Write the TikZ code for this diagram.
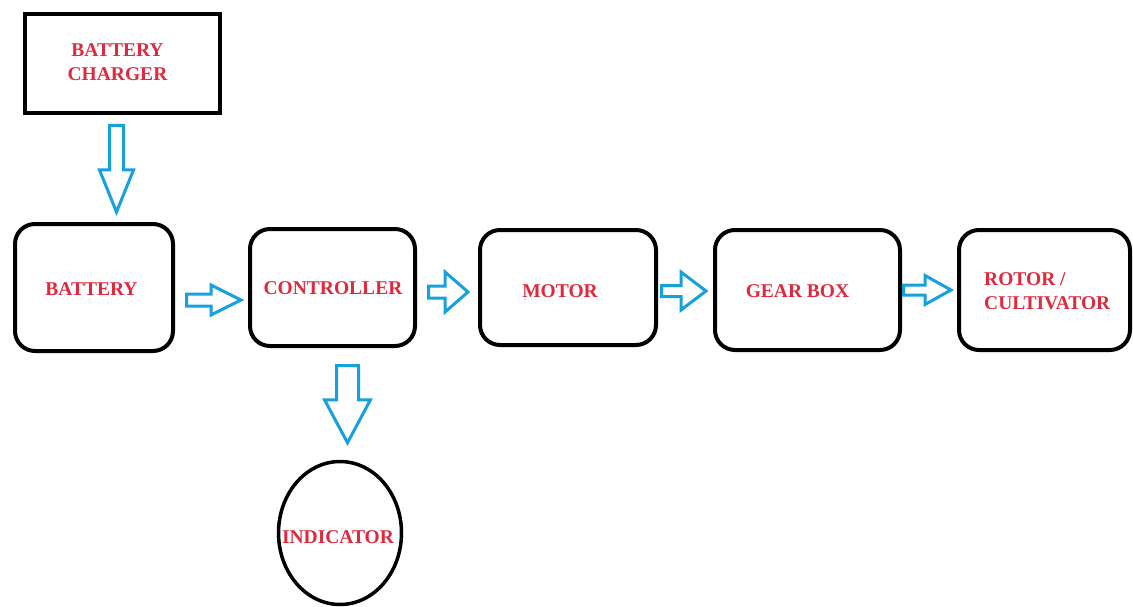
\documentclass[tikz,border=0pt]{standalone}
\usepackage{fontspec}
\setmainfont{Liberation Serif}
\usetikzlibrary{calc,shapes.geometric}

\definecolor{labelred}{RGB}{222,42,62}
\definecolor{flowblue}{RGB}{22,160,222}

% hollow block arrow, left to right: start, tip, shaft half-width, head half-width, head length
\newcommand\hblock[5]{%
  \draw[blk] let \p1=#1, \p2=#2 in
    (\x1,\y1+#3pt) -- (\x2-#5pt,\y1+#3pt) -- (\x2-#5pt,\y1+#4pt) -- (\x2,\y1)
    -- (\x2-#5pt,\y1-#4pt) -- (\x2-#5pt,\y1-#3pt) -- (\x1,\y1-#3pt) -- cycle;}
% hollow block arrow, top to bottom
\newcommand\vblock[5]{%
  \draw[blk] let \p1=#1, \p2=#2 in
    (\x1-#3pt,\y1) -- (\x1-#3pt,\y2+#5pt) -- (\x1-#4pt,\y2+#5pt) -- (\x1,\y2)
    -- (\x1+#4pt,\y2+#5pt) -- (\x1+#3pt,\y2+#5pt) -- (\x1+#3pt,\y1) -- cycle;}

\begin{document}
\begin{tikzpicture}[x=1pt,y=-1pt,
  box/.style={draw=black, line width=4pt, inner sep=0pt},
  rbox/.style={box, rounded corners=20pt},
  oval/.style={draw=black, line width=3.5pt, ellipse, inner sep=0pt},
  lbl/.style={text=labelred, font=\fontsize{19.5}{24.5}\selectfont\bfseries, inner sep=0pt},
  blk/.style={draw=flowblue, line width=3pt, line join=miter, fill=white}]

\useasboundingbox (0,0) rectangle (1133,607);
\fill[white] (0,0) rectangle (1133,607);

% blocks
\node[box,  minimum width=195pt, minimum height=99pt]  (chg)  at (122.5,63.5) {};
\node[rbox, minimum width=158pt, minimum height=127pt] (bat)  at (94,287.5)   {};
\node[rbox, minimum width=165pt, minimum height=117pt] (ctrl) at (332.5,287.5) {};
\node[rbox, minimum width=176pt, minimum height=115pt] (mot)  at (568,287.5)  {};
\node[rbox, minimum width=185pt, minimum height=120pt] (gear) at (807.5,290)  {};
\node[rbox, minimum width=171pt, minimum height=120pt] (rot)  at (1044.5,290) {};
\node[oval, minimum width=123pt, minimum height=143pt] (ind)  at (340,533)    {};

% labels
\node[lbl, align=center] (chg-t)  at ($(chg.center)+(-5,-1.5)$) {BATTERY\\CHARGER};
\node[lbl] (bat-t)  at ($(bat.center)+(-2.5,1.5)$) {BATTERY};
\node[lbl] (ctrl-t) at ($(ctrl.center)+(0.5,0.5)$) {CONTROLLER};
\node[lbl] (mot-t)  at ($(mot.center)+(-8,3.5)$) {MOTOR};
\node[lbl] (gear-t) at ($(gear.center)+(-10,1)$) {GEAR BOX};
\node[lbl, align=left, anchor=west] (rot-t) at (984,291) {ROTOR /\\CULTIVATOR};
\node[lbl] (ind-t)  at ($(ind.center)+(-2,4)$) {INDICATOR};

% power and signal flow
\vblock{($(chg.south)+(-6,10.5)$)}{($(bat.north)+(0,-10)$)}{7}{17}{42}
\hblock{($(bat.east)+(11.5,12.5)$)}{($(ctrl.west)+(-7,0)$)}{6}{15}{30}
\hblock{($(ctrl.east)+(11.5,4.5)$)}{($(mot.west)+(-10,0)$)}{6}{20}{23}
\hblock{($(mot.east)+(3.5,3.5)$)}{($(gear.west)+(-7,0)$)}{5.5}{19}{25}
\hblock{($(gear.east)+(1.5,0)$)}{($(rot.west)+(-6,0)$)}{5}{14.5}{26}
\vblock{($(ctrl.south)+(15,17.5)$)}{($(ind.north)+(0,-17)$)}{11}{23}{43}

\end{tikzpicture}
\end{document}
